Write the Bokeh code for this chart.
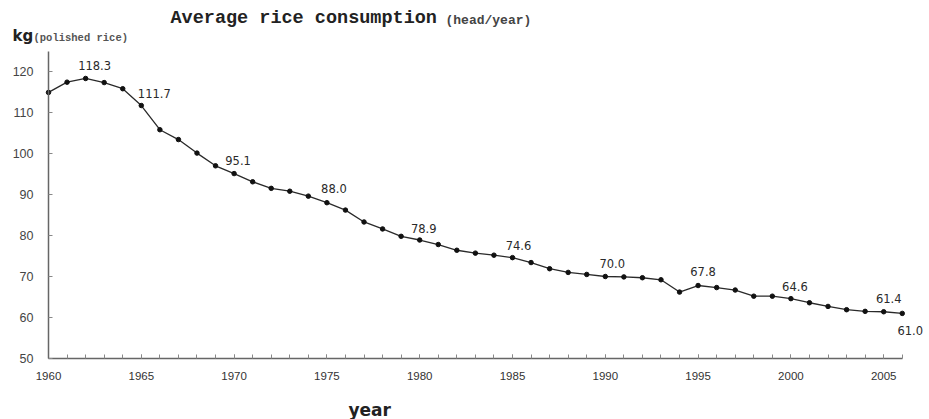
from bokeh.plotting import figure
from bokeh.models import (ColumnDataSource, Range1d, FixedTicker, LabelSet, Label)
from bokeh.core.properties import value
from bokeh.embed import file_html
from bokeh.resources import INLINE

# ---- data ----
years = list(range(1960, 2007))
consumption = [114.9, 117.4, 118.3, 117.3, 115.8,
               111.7, 105.8, 103.4, 100.1, 97.0,
               95.1, 93.1, 91.5, 90.8, 89.6,
               88.0, 86.2, 83.3, 81.6, 79.8,
               78.9, 77.8, 76.4, 75.7, 75.2,
               74.6, 73.4, 71.9, 71.0, 70.5,
               70.0, 69.9, 69.7, 69.2, 66.2,
               67.8, 67.3, 66.7, 65.2, 65.2,
               64.6, 63.6, 62.7, 61.9, 61.5,
               61.4, 61.0]
label_years = [1962, 1965, 1970, 1975, 1980, 1985, 1990, 1995, 2000, 2005, 2006]
x_major_ticks = [1960, 1965, 1970, 1975, 1980, 1985, 1990, 1995, 2000, 2005]
y_ticks = [50, 60, 70, 80, 90, 100, 110, 120]
y_axis_top = 125

title_text = "Average rice consumption"
title_sub = "(head/year)"
unit_text = "kg"
unit_sub = "(polished rice)"
x_title = "year"

# ---- layout / label styling (pixels) ----
W, H = 929, 419
X_PX, Y_PX = 18.56, 4.1          # pixels per year / per kg
X0_PX, Y0_PX = 48, 358           # canvas position of (1960, 50)
label_dx = [9, 13, 4, 7, 4, 6, 7, 5, 4, 5, 8]
label_dy = [13, 12, 13, 14, 12, 12, 13, 14, 12, 13, -17]

x0 = years[0] - X0_PX / X_PX
y0 = y_ticks[0] - (H - Y0_PX) / Y_PX

lab_vals = [consumption[years.index(y)] for y in label_years]
lab_src = ColumnDataSource(dict(
    x=label_years, y=lab_vals, text=[f"{v:.1f}" for v in lab_vals],
    dx=label_dx, dy=label_dy))
src = ColumnDataSource(dict(x=years, y=consumption))

p = figure(width=W, height=H, output_backend="svg", toolbar_location=None,
           x_range=Range1d(x0, x0 + W / X_PX), y_range=Range1d(y0, y0 + H / Y_PX),
           min_border_left=0, min_border_right=0, min_border_top=0,
           min_border_bottom=0)
p.outline_line_color = None
p.xgrid.visible = False
p.ygrid.visible = False
p.background_fill_color = "white"
p.border_fill_color = "white"

p.line("x", "y", source=src, line_color="#2a2a2a", line_width=1.3)
p.scatter("x", "y", source=src, size=4.5, color="#111111")

p.add_layout(LabelSet(x="x", y="y", text="text", source=lab_src,
                      x_offset="dx", y_offset="dy",
                      text_align="center", text_baseline="middle",
                      text_font_size=value("11.5px"), text_font=value("DejaVu Sans"),
                      text_color="#2a2a2a"))

# axes drawn at the data origin
xa = p.xaxis[0]
xa.fixed_location = y_ticks[0]
xa.bounds = (years[0], years[-1])
xa.ticker = FixedTicker(ticks=x_major_ticks, minor_ticks=years)
xa.axis_line_color = "#666666"
xa.axis_line_width = 1.5
xa.major_tick_in = 4
xa.major_tick_out = 0
xa.minor_tick_in = 4
xa.minor_tick_out = 0
xa.major_tick_line_color = "#888888"
xa.minor_tick_line_color = "#888888"
xa.major_label_standoff = 13
xa.major_label_text_font = "Liberation Sans"
xa.major_label_text_font_size = "11.5px"
xa.major_label_text_color = "#333333"

ya = p.yaxis[0]
ya.fixed_location = years[0]
ya.bounds = (y_ticks[0], y_axis_top)
ya.ticker = FixedTicker(ticks=y_ticks, minor_ticks=[])
ya.axis_line_color = "#666666"
ya.axis_line_width = 1.5
ya.major_tick_in = 4
ya.major_tick_out = 0
ya.major_tick_line_color = "#888888"
ya.major_label_standoff = 15
ya.major_label_text_font = "Liberation Sans"
ya.major_label_text_font_size = "12.5px"
ya.major_label_text_color = "#444444"

# texts (screen units: x from left, y up from bottom of the frame)
def txt(x, y, text, font, size, color, bold=True):
    p.add_layout(Label(x=x, y=y, x_units="screen", y_units="screen", text=text,
                       text_font=font, text_font_style="bold" if bold else "normal",
                       text_font_size=size, text_baseline="middle", text_color=color))

txt(170, 401, title_text, "Liberation Mono", "18.5px", "#222222")
txt(445, 399, title_sub, "Liberation Mono", "13px", "#444444")
txt(12, 383.5, unit_text, "DejaVu Sans", "15px", "#222222")
txt(33, 381.5, unit_sub, "Liberation Mono", "10.5px", "#555555")
txt(348, 10, x_title, "DejaVu Sans", "17px", "#222222")

open("out.html", "w").write(file_html(p, INLINE))
